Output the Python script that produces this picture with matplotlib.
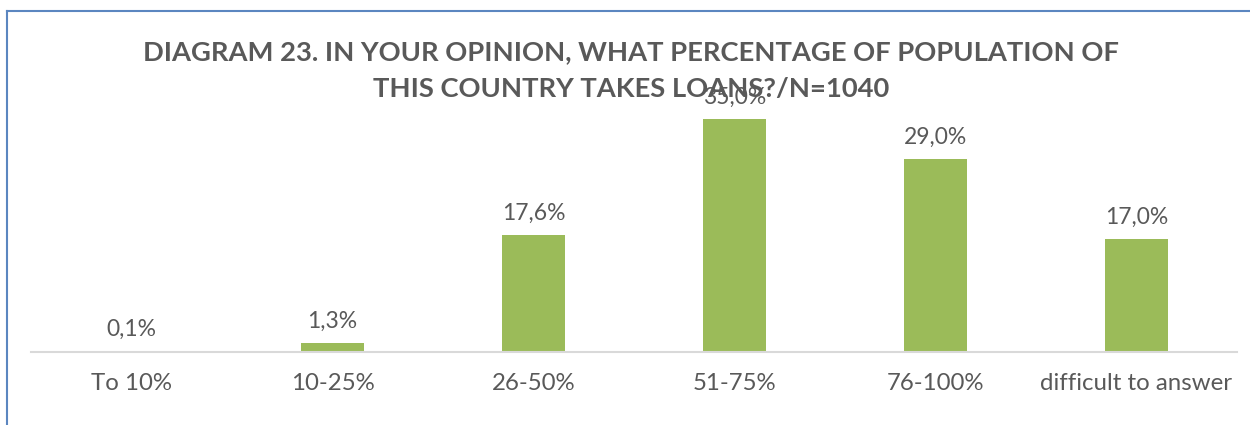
import matplotlib
matplotlib.use('Agg')
import matplotlib.pyplot as plt
from matplotlib.lines import Line2D

categories = ['To 10%', '10-25%', '26-50%', '51-75%', '76-100%', 'difficult to answer']
shares = [0.1, 1.3, 17.6, 35.0, 29.0, 17.0]

title = 'DIAGRAM 23. IN YOUR OPINION, WHAT PERCENTAGE OF POPULATION OF\nTHIS COUNTRY TAKES LOANS?/N=1040'

TEXT = '#595959'
GREEN = '#9BBB59'
FONT = 'Lato'

plt.rcParams['font.family'] = [FONT, 'DejaVu Sans']

fig = plt.figure(figsize=(12.5, 4.25), dpi=100)
ax = fig.add_axes([0.0248, 0.1718, 0.9648, 0.627])

x = range(len(categories))
ax.bar(x, shares, width=0.31, color=GREEN)
ax.set_xlim(-0.5, len(categories) - 0.5)
ax.set_ylim(0, 40)

# value labels with decimal comma
for i, v in enumerate(shares):
    ax.annotate(f'{v:.1f}'.replace('.', ',') + '%', (i, v), xytext=(0, 8),
                textcoords='offset points', ha='center', va='bottom',
                fontsize=16.5, color=TEXT)

ax.set_xticks(list(x))
ax.set_xticklabels(categories, fontsize=17.3, color=TEXT)
ax.tick_params(axis='x', length=0, pad=15)
ax.set_yticks([])
for side in ['top', 'right', 'left']:
    ax.spines[side].set_visible(False)
ax.spines['bottom'].set_color('#D9D9D9')
ax.spines['bottom'].set_linewidth(1.5)

fig.text(0.505, 0.905, title, ha='center', va='top', fontsize=19.7,
         fontweight='bold', color=TEXT, linespacing=1.65)

# chart area frame (left and top edges)
fig.add_artist(Line2D([0.0056, 0.0056], [0, 0.974], color='#5B86C0', lw=1.5))
fig.add_artist(Line2D([0.0056, 1.0], [0.974, 0.974], color='#5B86C0', lw=1.5))

fig.savefig('out.png', dpi=100)
